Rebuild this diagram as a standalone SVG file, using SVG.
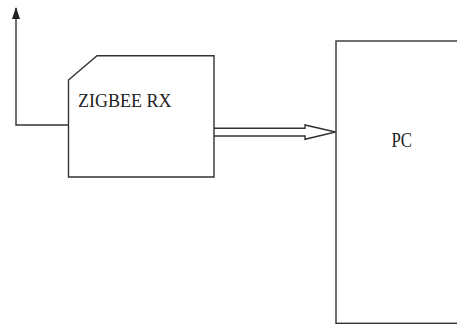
<svg xmlns="http://www.w3.org/2000/svg" width="457" height="325" viewBox="0 0 457 325">
  <style>
    .box { fill: #fff; stroke: #333; stroke-width: 1.4; }
    .wire { fill: none; stroke: #333; stroke-width: 1.4; }
    .label { font-family: "Liberation Serif", "Times New Roman", serif; fill: #222; }
  </style>
  <defs>
    <marker id="tip" viewBox="0 0 12 8" refX="11" refY="4" markerWidth="12" markerHeight="8" markerUnits="userSpaceOnUse" orient="auto">
      <path d="M0,0 L12,4 L0,8 Z" fill="#222"/>
    </marker>
  </defs>
  <rect width="457" height="325" fill="#fff"/>

  <g id="connectors">
    <!-- antenna lead from the receiver -->
    <path class="wire" d="M68.5,125 H16 V8" marker-end="url(#tip)"/>
    <!-- hollow double-line arrow to the PC -->
    <path class="wire" d="M214,128.3 H305 V125 L335.5,132 L305,139.3 V136 H214"/>
  </g>

  <g id="zigbee-rx">
    <path class="box" d="M97,55.7 H214 V177 H68.5 V80 Z"/>
    <text class="label" x="78" y="106.7" font-size="19.5" textLength="93.5" lengthAdjust="spacingAndGlyphs">ZIGBEE RX</text>
  </g>

  <g id="pc">
    <rect class="box" x="336" y="41" width="130" height="282.3"/>
    <text class="label" x="391.5" y="146.7" font-size="20" textLength="20.5" lengthAdjust="spacingAndGlyphs">PC</text>
  </g>
</svg>
